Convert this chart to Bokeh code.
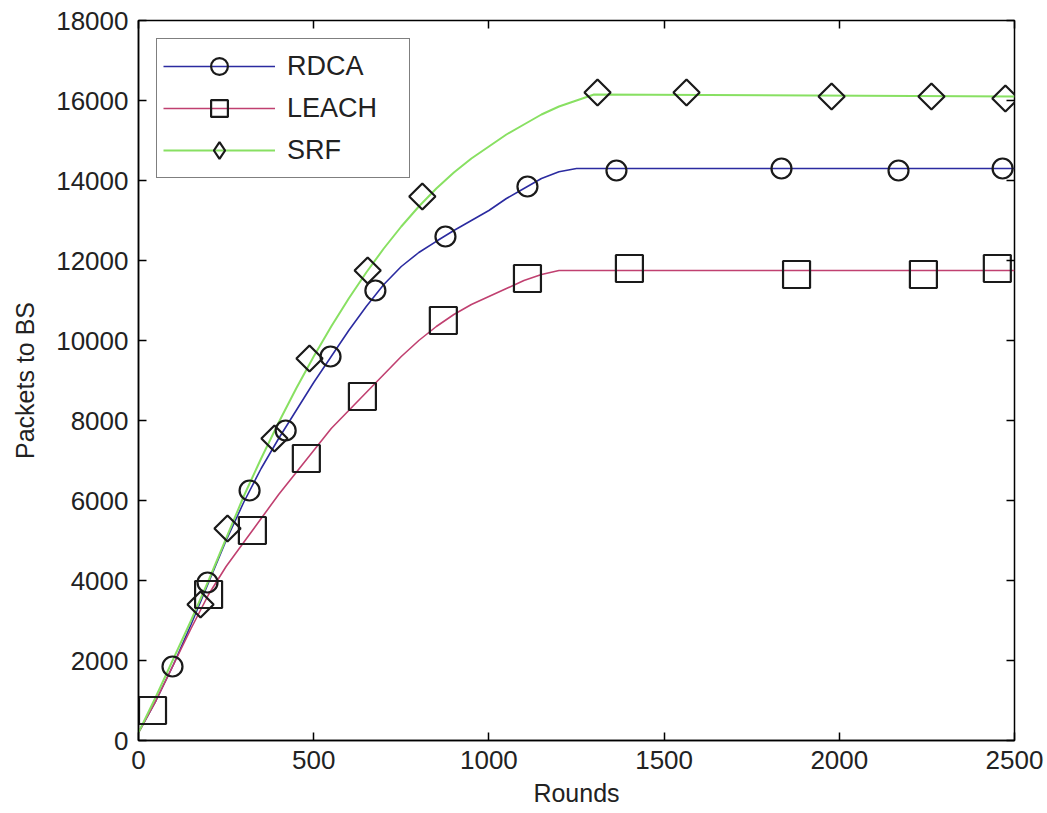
import numpy as np
from bokeh.plotting import figure
from bokeh.models import Range1d, LinearAxis, FixedTicker, Legend, LegendItem
from bokeh.embed import file_html
from bokeh.resources import INLINE

# ---- curve data ----
rdca_x = [0, 50, 100, 150, 200, 250, 300, 350, 400, 450, 500, 550, 600, 650, 700, 750, 800,
          850, 900, 950, 1000, 1050, 1100, 1150, 1200, 1250, 2500]
rdca_y = [200, 1000, 1900, 2900, 3950, 5000, 5950, 6800, 7550, 8250, 8950, 9600, 10250, 10850,
          11400, 11850, 12200, 12480, 12750, 13000, 13250, 13550, 13800, 14050, 14220, 14300, 14300]

leach_x = [0, 50, 100, 150, 200, 250, 300, 350, 400, 450, 500, 550, 600, 650, 700, 750, 800,
           850, 900, 950, 1000, 1050, 1100, 1150, 1200, 2500]
leach_y = [200, 1000, 1900, 2800, 3650, 4350, 4950, 5550, 6150, 6700, 7250, 7800, 8250, 8700,
           9150, 9600, 10000, 10350, 10650, 10900, 11100, 11300, 11500, 11650, 11750, 11750]

srf_x = [0, 50, 100, 150, 200, 250, 300, 350, 400, 450, 500, 550, 600, 650, 700, 750, 800,
         850, 900, 950, 1000, 1050, 1100, 1150, 1200, 1250, 1300, 2500]
srf_y = [200, 1100, 2050, 3000, 4000, 5050, 6100, 7050, 7950, 8800, 9600, 10350, 11050, 11700,
         12300, 12850, 13350, 13800, 14200, 14550, 14850, 15150, 15400, 15650, 15850, 16000,
         16150, 16100]

# ---- marker data ----
rdca_mx = [97, 197, 317, 420, 548, 676, 876, 1110, 1364, 1835, 2169, 2466]
rdca_my = [1850, 3950, 6250, 7750, 9600, 11250, 12600, 13850, 14250, 14300, 14250, 14300]

leach_mx = [40, 200, 325, 479, 639, 870, 1110, 1401, 1878, 2240, 2451]
leach_my = [750, 3650, 5250, 7050, 8600, 10500, 11550, 11800, 11650, 11650, 11800]

srf_mx = [177, 254, 388, 488, 654, 810, 1310, 1564, 1978, 2263, 2474]
srf_my = [3400, 5300, 7550, 9550, 11750, 13600, 16200, 16200, 16100, 16100, 16050]

series_names = ["RDCA", "LEACH", "SRF"]

x_ticks = [0, 500, 1000, 1500, 2000, 2500]
y_ticks = [0, 2000, 4000, 6000, 8000, 10000, 12000, 14000, 16000, 18000]

FONT = "Liberation Sans"
FS = "26px"

p = figure(width=1047, height=813, output_backend="svg", toolbar_location=None,
           x_range=Range1d(0, 2500), y_range=Range1d(0, 18000),
           min_border_left=138, min_border_right=33, min_border_top=20, min_border_bottom=73)
p.background_fill_color = "white"
p.border_fill_color = "white"
p.outline_line_color = "black"
p.outline_line_width = 1.5
p.xgrid.visible = False
p.ygrid.visible = False

for ax in (p.xaxis[0], p.yaxis[0]):
    ax.major_tick_in = 8
    ax.major_tick_out = 0
    ax.minor_tick_line_color = None
    ax.axis_line_width = 1.5
    ax.major_tick_line_width = 1.5
    ax.major_label_text_font = FONT
    ax.major_label_text_font_size = FS
    ax.major_label_text_color = "#222222"
    ax.axis_label_text_font = FONT
    ax.axis_label_text_font_size = "25px"
    ax.axis_label_text_font_style = "normal"
    ax.axis_label_text_color = "#222222"

p.xaxis[0].ticker = FixedTicker(ticks=x_ticks)
p.yaxis[0].ticker = FixedTicker(ticks=y_ticks)
p.xaxis[0].major_label_standoff = 10
p.yaxis[0].major_label_standoff = 10
p.xaxis[0].axis_label = "Rounds"
p.yaxis[0].axis_label = "Packets to BS"
p.xaxis[0].axis_label_standoff = 7
p.yaxis[0].axis_label_standoff = 14

top = LinearAxis(ticker=FixedTicker(ticks=x_ticks),
                 major_label_overrides={t: "" for t in x_ticks},
                 major_tick_in=8, major_tick_out=0, minor_tick_line_color=None,
                 axis_line_color=None, major_tick_line_width=1.5, major_label_standoff=0)
right = LinearAxis(ticker=FixedTicker(ticks=y_ticks),
                   major_label_overrides={t: "" for t in y_ticks},
                   major_tick_in=8, major_tick_out=0, minor_tick_line_color=None,
                   axis_line_color=None, major_tick_line_width=1.5, major_label_standoff=0)
p.add_layout(top, "above")
p.add_layout(right, "right")

C_RDCA = "#2b2ba0"
C_LEACH = "#c04070"
C_SRF = "#88e062"
MK = "#1a1a1a"

l1 = p.line(rdca_x, rdca_y, line_color=C_RDCA, line_width=1.6)
l2 = p.line(leach_x, leach_y, line_color=C_LEACH, line_width=1.6)
l3 = p.line(srf_x, srf_y, line_color=C_SRF, line_width=2)

m1 = p.scatter(rdca_mx, rdca_my, marker="circle", size=20, fill_color=None,
               line_color=MK, line_width=2.2)
m2 = p.scatter(leach_mx, leach_my, marker="square", size=27, fill_color=None,
               line_color=MK, line_width=2.2)
m3 = p.scatter(srf_mx, srf_my, marker="square", angle=np.pi / 4, size=18.5, fill_color=None,
               line_color=MK, line_width=2.2)

# legend-only diamond renderer (NaN point: nothing drawn in the plot)
d3 = p.scatter([np.nan], [np.nan], marker="diamond", fill_color=None, line_color=MK,
               line_width=2.2)

legend = Legend(items=[LegendItem(label=series_names[0], renderers=[l1, m1]),
                       LegendItem(label=series_names[1], renderers=[l2, m2]),
                       LegendItem(label=series_names[2], renderers=[l3, d3])],
                location="top_left", margin=18, padding=6, spacing=0,
                glyph_width=112, glyph_height=42, label_standoff=12, label_width=116,
                label_text_font=FONT, label_text_font_size="27px", label_text_color="#222222",
                border_line_color="black", border_line_width=1.5,
                background_fill_color="white", background_fill_alpha=1)
p.add_layout(legend, "center")

open("out.html", "w").write(file_html(p, INLINE))
